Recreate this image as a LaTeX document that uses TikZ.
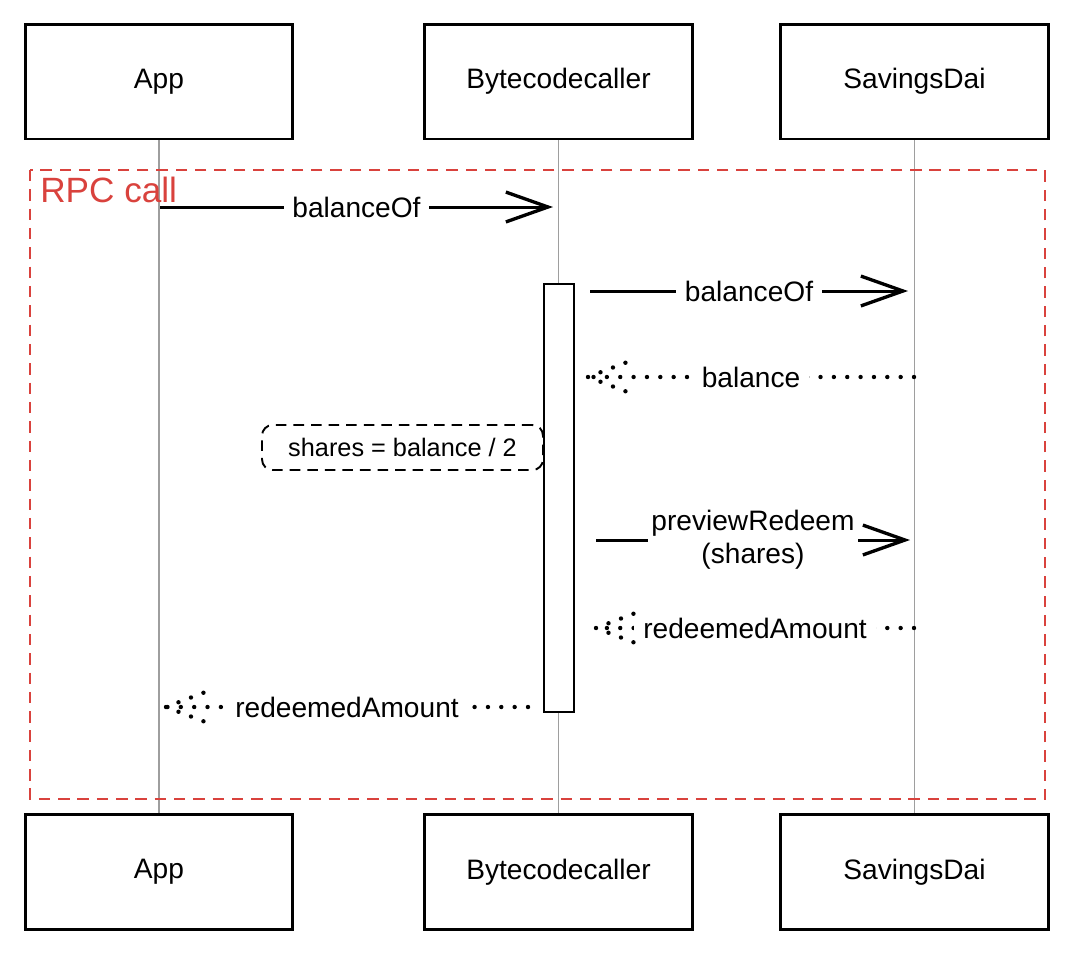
\documentclass[tikz,border=0pt]{standalone}
\usepackage{fontspec}
\setmainfont{Liberation Sans}
\usetikzlibrary{arrows.meta,calc,positioning}
\definecolor{rpcred}{rgb}{0.85, 0.26, 0.24}
\definecolor{lifegray}{rgb}{0.62, 0.62, 0.62}
\tikzset{
  actor/.style={draw, line width=1.7pt, fill=white, minimum width=5.36cm, minimum height=2.3cm, font=\fontsize{16}{19}\selectfont},
  lifeline/.style={draw=lifegray, line width=0.8pt},
  activation/.style={draw, line width=1pt, fill=white, minimum width=0.6cm, minimum height=8.56cm},
  msg/.style={line width=1.7pt, -{Straight Barb[length=24pt, width=17pt, line width=1.9pt]}},
  dotline/.style={line width=2.5pt, line cap=round, dash pattern=on 0pt off 7.6pt},
  lbl/.style={fill=white, inner xsep=5pt, inner ysep=3pt, font=\fontsize{16}{19}\selectfont},
  notebox/.style={draw, line width=1.1pt, dash pattern=on 6pt off 4pt, rounded corners=6pt, minimum width=5.62cm, minimum height=0.9cm, font=\fontsize{14.4}{17}\selectfont},
  dotbarb/.pic={\draw[dotline] (0,0) -- (42,-16) (0,0) -- (42,16);}
}
\begin{document}
\begin{tikzpicture}[x=0.02cm, y=-0.02cm]
\useasboundingbox (0,0) rectangle (1074,954);
% participants
\node[actor] (app) at (159,81.5) {App};
\node[actor] (bcc) at (558.5,81.5) {Bytecodecaller};
\node[actor] (sdai) at (914.5,81.5) {SavingsDai};
\node[actor] (appb) at (159,872) {App};
\node[actor] (bccb) at (558.5,872) {Bytecodecaller};
\node[actor] (sdaib) at (914.5,872) {SavingsDai};
% lifelines
\draw[lifeline] (app.south) -- (appb.north);
\draw[lifeline] (bcc.south) -- (bccb.north);
\draw[lifeline] (sdai.south) -- (sdaib.north);
% RPC frame
\draw[rpcred, line width=1.5pt, dash pattern=on 6.5pt off 4.5pt] (30,170) rectangle (1045,799);
\node[rpcred, anchor=base west, inner sep=0pt, font=\fontsize{20}{24}\selectfont] (rpc) at (40,202) {RPC call};
% activation bar
\node[activation] (act) at (559,498) {};
% note
\node[notebox] (calc) at (402.5,447.5) {shares = balance / 2};
% messages
\coordinate (m1s) at (160,207);
\coordinate (m1e) at (553,207);
\draw[msg] (m1s) -- node[lbl] {balanceOf} (m1e);
\coordinate (m2s) at (590,291);
\coordinate (m2e) at (908,291);
\draw[msg] (m2s) -- node[lbl] {balanceOf} (m2e);
\coordinate (m3s) at (914,377);
\coordinate (m3e) at (588,377);
\draw[dotline] (m3s) -- node[lbl] {balance} (m3e);
\pic at (m3e) {dotbarb};
\coordinate (m4s) at (596,540);
\coordinate (m4e) at (910,540);
\draw[msg] (m4s) -- node[lbl, align=center, inner xsep=2pt, inner ysep=1pt] {previewRedeem\\(shares)} (m4e);
\coordinate (m5s) at (914,628);
\coordinate (m5e) at (596,628);
\draw[dotline] (m5s) -- node[lbl] {redeemedAmount} (m5e);
\pic at (m5e) {dotbarb};
\coordinate (m6s) at (528,707);
\coordinate (m6e) at (166,707);
\draw[dotline] (m6s) -- node[lbl] {redeemedAmount} (m6e);
\pic at (m6e) {dotbarb};
\end{tikzpicture}
\end{document}
